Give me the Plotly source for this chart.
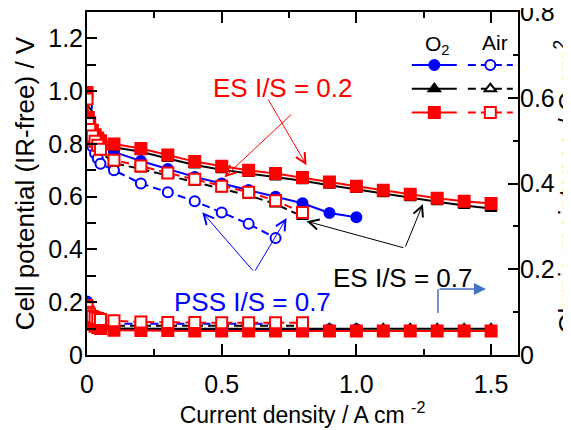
import plotly.graph_objects as go

# ---------------- data ----------------
# current density (A cm-2)
x_es02_o2 = [0, 0.005, 0.01, 0.02, 0.03, 0.04, 0.05, 0.1, 0.2, 0.3, 0.4, 0.5, 0.6, 0.7,
             0.8, 0.9, 1.0, 1.1, 1.2, 1.3, 1.4, 1.5]
x_es07_o2 = [0, 0.005, 0.01, 0.02, 0.03, 0.04, 0.05, 0.1, 0.2, 0.3, 0.4, 0.5, 0.6, 0.7,
             0.8, 0.9, 1.0, 1.1, 1.2, 1.3, 1.4, 1.5]
x_pss_o2 = [0, 0.005, 0.01, 0.02, 0.03, 0.04, 0.05, 0.1, 0.2, 0.3, 0.4, 0.5, 0.6, 0.7,
            0.8, 0.9, 1.0]
x_es02_air = [0, 0.005, 0.01, 0.02, 0.03, 0.04, 0.05, 0.1, 0.2, 0.3, 0.4, 0.5, 0.6, 0.7, 0.8]
x_es07_air = [0, 0.005, 0.01, 0.02, 0.03, 0.04, 0.05, 0.1, 0.2, 0.3, 0.4, 0.5, 0.6, 0.7, 0.8]
x_pss_air = [0, 0.005, 0.01, 0.02, 0.03, 0.04, 0.05, 0.1, 0.2, 0.3, 0.4, 0.5, 0.6, 0.7]

# IR-free cell potential (V)
v_es02_o2 = [0.995, 0.90, 0.88, 0.852, 0.835, 0.822, 0.812, 0.80, 0.783, 0.758, 0.733, 0.715,
             0.70, 0.688, 0.673, 0.656, 0.64, 0.624, 0.609, 0.594, 0.583, 0.574]
v_es07_o2 = [0.91, 0.875, 0.86, 0.84, 0.825, 0.812, 0.802, 0.787, 0.77, 0.745, 0.72, 0.702,
             0.688, 0.675, 0.66, 0.643, 0.627, 0.611, 0.596, 0.581, 0.567, 0.555]
v_pss_o2 = [0.975, 0.87, 0.85, 0.83, 0.815, 0.805, 0.795, 0.77, 0.735, 0.705, 0.675, 0.65,
            0.625, 0.60, 0.575, 0.538, 0.522]
v_es02_air = [0.97, 0.88, 0.855, 0.83, 0.81, 0.795, 0.78, 0.738, 0.716, 0.69, 0.666, 0.64,
              0.617, 0.585, 0.54]
v_es07_air = [0.93, 0.87, 0.845, 0.82, 0.80, 0.785, 0.77, 0.727, 0.705, 0.68, 0.655, 0.63,
              0.605, 0.572, 0.525]
v_pss_air = [0.94, 0.85, 0.82, 0.79, 0.765, 0.745, 0.725, 0.70, 0.65, 0.617, 0.583, 0.54,
             0.497, 0.443]

# ohmic resistance (Ohm cm2), right axis
r_es02_o2 = [0.115, 0.09, 0.08, 0.072, 0.067, 0.064, 0.062, 0.058, 0.057, 0.057, 0.056, 0.056,
             0.056, 0.056, 0.056, 0.056, 0.056, 0.056, 0.056, 0.056, 0.056, 0.056]
r_es07_o2 = [0.10, 0.08, 0.072, 0.066, 0.064, 0.063, 0.062, 0.062, 0.061, 0.061, 0.061, 0.061,
             0.061, 0.061, 0.061, 0.061, 0.061, 0.061, 0.061, 0.061, 0.061, 0.061]
r_pss_o2 = [0.125, 0.085, 0.075, 0.068, 0.065, 0.063, 0.062, 0.06, 0.06, 0.06, 0.06, 0.06,
            0.06, 0.06, 0.06, 0.06, 0.06]
r_es02_air = [0.11, 0.10, 0.095, 0.09, 0.087, 0.085, 0.083, 0.08, 0.077, 0.076, 0.076, 0.075,
              0.075, 0.075, 0.075]
r_es07_air = [0.10, 0.08, 0.075, 0.072, 0.07, 0.07, 0.069, 0.068, 0.068, 0.068, 0.068, 0.068,
              0.068, 0.068, 0.068]
r_pss_air = [0.12, 0.09, 0.082, 0.078, 0.076, 0.075, 0.074, 0.073, 0.073, 0.073, 0.073, 0.073,
             0.073, 0.073]

x_ticks = [0, 0.5, 1.0, 1.5]
x_ticktext = ["0", "0.5", "1.0", "1.5"]
y_ticks = [0, 0.2, 0.4, 0.6, 0.8, 1.0, 1.2]
y_ticktext = ["0", "0.2", "0.4", "0.6", "0.8", "1.0", "1.2"]
y2_ticks = [0, 0.2, 0.4, 0.6, 0.8]
y2_ticktext = ["0", "0.2", "0.4", "0.6", "0.8"]

BLUE = "#0000FF"
RED = "#FF0000"
BLACK = "#000000"
FONT = "Arial"

fig = go.Figure()

series = [
    # (x, V, R, color, symbol, filled, dashed, legend)
    (x_pss_o2, v_pss_o2, r_pss_o2, BLUE, "circle", True, False, "legend"),
    (x_pss_air, v_pss_air, r_pss_air, BLUE, "circle", False, True, "legend2"),
    (x_es07_o2, v_es07_o2, r_es07_o2, BLACK, "triangle-up", True, False, "legend"),
    (x_es07_air, v_es07_air, r_es07_air, BLACK, "triangle-up", False, True, "legend2"),
    (x_es02_o2, v_es02_o2, r_es02_o2, RED, "square", True, False, "legend"),
    (x_es02_air, v_es02_air, r_es02_air, RED, "square", False, True, "legend2"),
]

def marker_for(color, symbol, filled):
    size = {"circle": 10, "triangle-up": 10, "square": 11}[symbol]
    return dict(symbol=symbol, size=size,
                color=color if filled else "white",
                line=dict(color=color, width=2))

# resistance curves first (underneath)
for x, v, r, c, s, f, d, lg in series:
    fig.add_trace(go.Scatter(
        x=x, y=r, yaxis="y2", mode="lines+markers", showlegend=False,
        line=dict(color=c, width=2, dash="8px,5px" if d else "solid"),
        marker=marker_for(c, s, f)))

for x, v, r, c, s, f, d, lg in series:
    fig.add_trace(go.Scatter(
        x=x, y=v, mode="lines+markers", name=" ", legend=lg,
        line=dict(color=c, width=2, dash="8px,5px" if d else "solid"),
        marker=marker_for(c, s, f)))

annotations = []
# text labels
annotations.append(dict(x=0.726, y=1.011, xref="x", yref="y", text="ES I/S = 0.2",
                        showarrow=False, font=dict(color=RED, size=26, family=FONT)))
annotations.append(dict(x=0.614, y=0.20, xref="x", yref="y", text="PSS I/S = 0.7",
                        showarrow=False, font=dict(color=BLUE, size=26, family=FONT)))
annotations.append(dict(x=1.172, y=0.291, xref="x", yref="y", text="ES I/S = 0.7",
                        showarrow=False, font=dict(color=BLACK, size=26, family=FONT)))

def arrow(tail, head, color):
    return dict(x=head[0], y=head[1], ax=tail[0], ay=tail[1], xref="x", yref="y",
                axref="x", ayref="y", text="", showarrow=True, arrowhead=5,
                arrowsize=2, arrowwidth=1, arrowcolor=color)

annotations += [
    arrow((0.670, 0.973), (0.815, 0.719), RED),
    arrow((0.763, 0.916), (0.510, 0.674), RED),
    arrow((0.621, 0.314), (0.428, 0.541), BLUE),
    arrow((0.621, 0.314), (0.741, 0.519), BLUE),
    arrow((1.180, 0.405), (0.815, 0.507), BLACK),
    arrow((1.180, 0.405), (1.247, 0.572), BLACK),
]
# elbow arrow pointing to the right axis
annotations.append(dict(x=1.481, y=0.25, ax=1.303, ay=0.25, xref="x", yref="y",
                        axref="x", ayref="y", text="", showarrow=True, arrowhead=2,
                        arrowsize=1.6, arrowwidth=1.5, arrowcolor="#4472C4"))
# legend headers
annotations.append(dict(x=0.814, y=0.905, xref="paper", yref="paper", text="O<sub>2</sub>",
                        xanchor="center", yanchor="middle",
                        showarrow=False, font=dict(size=21, family=FONT, color=BLACK)))
annotations.append(dict(x=0.947, y=0.912, xref="paper", yref="paper", text="Air",
                        xanchor="center", yanchor="middle",
                        showarrow=False, font=dict(size=21, family=FONT, color=BLACK)))
# right axis title (mostly cut off at the right edge, as in the reference)
annotations.append(dict(x=1.07, y=0.49, xref="paper", yref="paper", xanchor="left",
                        yanchor="middle", textangle=-90,
                        text="Ohmic resistance / Ω cm<sup>2</sup>", showarrow=False,
                        font=dict(size=26, family=FONT, color=BLACK)))

shapes = [dict(type="line", xref="x", yref="y", x0=1.303, x1=1.303, y0=0.159, y1=0.25,
               line=dict(color="#4472C4", width=1.5))]

# the page body adds an 8 px margin, so the figure is 8 px smaller than the window
fig.update_layout(
    width=563, height=422,
    margin=dict(l=79, r=53, t=4, b=75, autoexpand=False),
    paper_bgcolor="white", plot_bgcolor="white",
    font=dict(family=FONT, color=BLACK),
    annotations=annotations, shapes=shapes,
    xaxis=dict(
        range=[0, 1.6], tickmode="array", tickvals=x_ticks, ticktext=x_ticktext,
        ticks="inside", ticklen=11, tickwidth=2, tickcolor=BLACK,
        minor=dict(tickvals=[0.25, 0.75, 1.25], ticks="inside", ticklen=6, tickwidth=2,
                   tickcolor=BLACK),
        showline=True, linewidth=2, linecolor=BLACK, mirror="ticks",
        showgrid=False, zeroline=False, automargin=False,
        tickfont=dict(size=25, family=FONT), ticklabelstandoff=6,
        title=dict(text="Current density / A cm <sup>-2</sup>", font=dict(size=23, family=FONT),
                   standoff=8),
    ),
    yaxis=dict(
        range=[0, 1.3], tickmode="array", tickvals=y_ticks, ticktext=y_ticktext,
        ticks="inside", ticklen=10, tickwidth=2, tickcolor=BLACK,
        minor=dict(tickvals=[0.1, 0.3, 0.5, 0.7, 0.9, 1.1], ticks="inside", ticklen=9,
                   tickwidth=2, tickcolor=BLACK),
        showline=True, linewidth=2, linecolor=BLACK, mirror=False,
        showgrid=False, zeroline=False, automargin=False,
        tickfont=dict(size=25, family=FONT), ticklabelstandoff=-3,
        title=dict(text="Cell potential (IR-free) / V", font=dict(size=26, family=FONT),
                   standoff=6),
    ),
    yaxis2=dict(
        overlaying="y", side="right", anchor="x",
        range=[0, 0.8001], tickmode="array", tickvals=y2_ticks, ticktext=y2_ticktext,
        ticks="inside", ticklen=10, tickwidth=2, tickcolor=BLACK,
        minor=dict(tickvals=[0.1, 0.3, 0.5, 0.7], ticks="inside", ticklen=5, tickwidth=2,
                   tickcolor=BLACK),
        showline=True, linewidth=2, linecolor=BLACK,
        showgrid=False, zeroline=False, automargin=False,
        tickfont=dict(size=25, family=FONT), ticklabelstandoff=-5,
        ticklabeloverflow="allow",
    ),
    legend=dict(x=0.742, y=0.895, xanchor="left", yanchor="top", bgcolor="rgba(0,0,0,0)",
                borderwidth=0, font=dict(size=16, family=FONT), itemwidth=45,
                tracegroupgap=0),
    legend2=dict(x=0.872, y=0.895, xanchor="left", yanchor="top", bgcolor="rgba(0,0,0,0)",
                 borderwidth=0, font=dict(size=16, family=FONT), itemwidth=45,
                 tracegroupgap=0),
)

fig.write_html("out.html")
